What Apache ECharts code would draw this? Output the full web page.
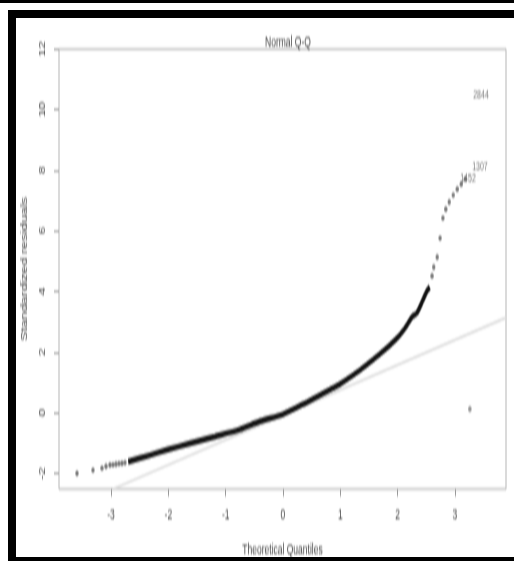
<!DOCTYPE html>
<html>
<head>
<meta charset="utf-8">
<script src="https://cdn.jsdelivr.net/npm/echarts@6/dist/echarts.min.js"></script>
<style>
  html, body { margin: 0; padding: 0; background: #fff; }
  #wrap { position: relative; width: 514px; height: 561px; overflow: hidden; background: #fff; }
  #chart { position: absolute; left: 0; top: 0; width: 514px; height: 336px;
           transform: scaleY(1.6696); transform-origin: 0 0; filter: blur(0.5px); }
  .bar { position: absolute; background: #000; }
</style>
</head>
<body>
<div id="wrap">
  <div id="chart"></div>
  <div class="bar" style="left:0;top:0;width:514px;height:3px"></div>
  <div class="bar" style="left:8px;top:10px;width:506px;height:8px"></div>
  <div class="bar" style="left:8px;top:10px;width:8px;height:551px"></div>
  <div class="bar" style="left:8px;top:557px;width:506px;height:4px"></div>
</div>
<script>
// ---- data ----
const xTicks = [-3, -2, -1, 0, 1, 2, 3];
const yTicks = [-2, 0, 2, 4, 6, 8, 10, 12];

const leftTailX = [-3.593, -3.314, -3.157, -3.087, -3.018, -2.965, -2.913, -2.861, -2.808, -2.756];
const leftTailY = [-2.00, -1.90, -1.83, -1.77, -1.73, -1.72, -1.70, -1.68, -1.67, -1.65];

const curveX = [-2.70, -2.32, -2.01, -1.62, -1.19, -0.75, -0.40, 0.00, 0.42, 0.87, 0.99, 1.34, 1.69, 1.99, 2.13, 2.22, 2.26, 2.34, 2.44, 2.51, 2.56];
const curveY = [-1.62, -1.40, -1.22, -1.01, -0.79, -0.55, -0.28, -0.05, 0.35, 0.81, 0.94, 1.40, 1.93, 2.46, 2.79, 3.07, 3.18, 3.30, 3.71, 4.01, 4.14];

const upperTailX = [2.60, 2.63, 2.69, 2.74, 2.79, 2.84, 2.90, 2.97, 3.04, 3.11, 3.18];
const upperTailY = [4.51, 4.80, 5.13, 5.76, 6.42, 6.72, 6.95, 7.18, 7.38, 7.54, 7.71];

const lowOutlierX = [3.26];
const lowOutlierY = [0.12];

const refLineX = [-2.965, 3.89];
const refLineY = [-2.52, 3.13];

const outlierIds = ['2844', '1307', '1452'];
const outlierX = [3.454, 3.436, 3.227];
const outlierY = [10.48, 8.13, 7.74];

// ---- chart ----
const zip = (xs, ys) => xs.map((x, i) => [x, ys[i]]);
const chart = echarts.init(document.getElementById('chart'));
const S = 561 / 336;
const labelColor = '#444';
const FONT = 'Liberation Sans, Arial, sans-serif';

chart.setOption({
  animation: false,
  backgroundColor: '#fff',
  title: {
    text: 'Normal Q-Q',
    left: 283, top: 37 / S - 6, textAlign: 'center',
    textStyle: { fontSize: 8.5, fontWeight: 'normal', color: labelColor, fontFamily: FONT }
  },
  grid: {
    left: 59, right: 8, top: 49 / S, bottom: 72 / S,
    outerBoundsMode: 'none', containLabel: false,
    show: true, borderColor: '#b5b5b5', borderWidth: 1, backgroundColor: 'transparent'
  },
  xAxis: {
    type: 'value', min: -3.907, max: 3.89,
    name: 'Theoretical Quantiles', nameLocation: 'middle', nameGap: 32,
    nameTextStyle: { fontSize: 8.5, color: labelColor, fontFamily: FONT },
    axisLine: { show: false, onZero: false },
    splitLine: { show: false },
    axisTick: { show: true, length: 4.5, customValues: xTicks, lineStyle: { color: '#999' } },
    axisLabel: { customValues: xTicks, margin: 11, fontSize: 8.5, color: labelColor, fontFamily: FONT }
  },
  yAxis: {
    type: 'value', min: -2.52, max: 12.0,
    name: 'Standardized residuals', nameLocation: 'middle', nameGap: 30,
    nameTextStyle: { fontSize: 8.5, color: labelColor, fontFamily: FONT },
    axisLine: { show: false, onZero: false },
    splitLine: { show: false },
    axisTick: { show: true, length: 5, customValues: yTicks, lineStyle: { color: '#999' } },
    axisLabel: { customValues: yTicks, rotate: 90, margin: 12, fontSize: 8.5, color: labelColor, fontFamily: FONT }
  },
  series: [
    {
      name: 'qqline', type: 'line', data: zip(refLineX, refLineY), symbol: 'none', z: 1,
      lineStyle: { color: '#dcdcdc', width: 1.5 }
    },
    {
      name: 'body', type: 'line', data: zip(curveX, curveY), symbol: 'none', smooth: 0.3, z: 3,
      lineStyle: { color: '#111', width: 3.4 }
    },
    {
      name: 'tails', type: 'scatter', data: zip(leftTailX, leftTailY).concat(zip(upperTailX, upperTailY)),
      symbol: 'circle', symbolSize: 3.4, z: 2,
      itemStyle: { color: '#555' }
    },
    {
      name: 'low', type: 'scatter', data: zip(lowOutlierX, lowOutlierY),
      symbol: 'circle', symbolSize: 3.6, z: 2,
      itemStyle: { color: '#777' }
    },
    {
      name: 'ids', type: 'scatter', symbolSize: 0, z: 4,
      data: outlierIds.map((id, i) => ({ name: id, value: [outlierX[i], outlierY[i]] })),
      label: { show: true, position: 'inside', formatter: p => p.name, fontSize: 7, color: '#555', fontFamily: FONT }
    }
  ]
});
</script>
</body>
</html>
